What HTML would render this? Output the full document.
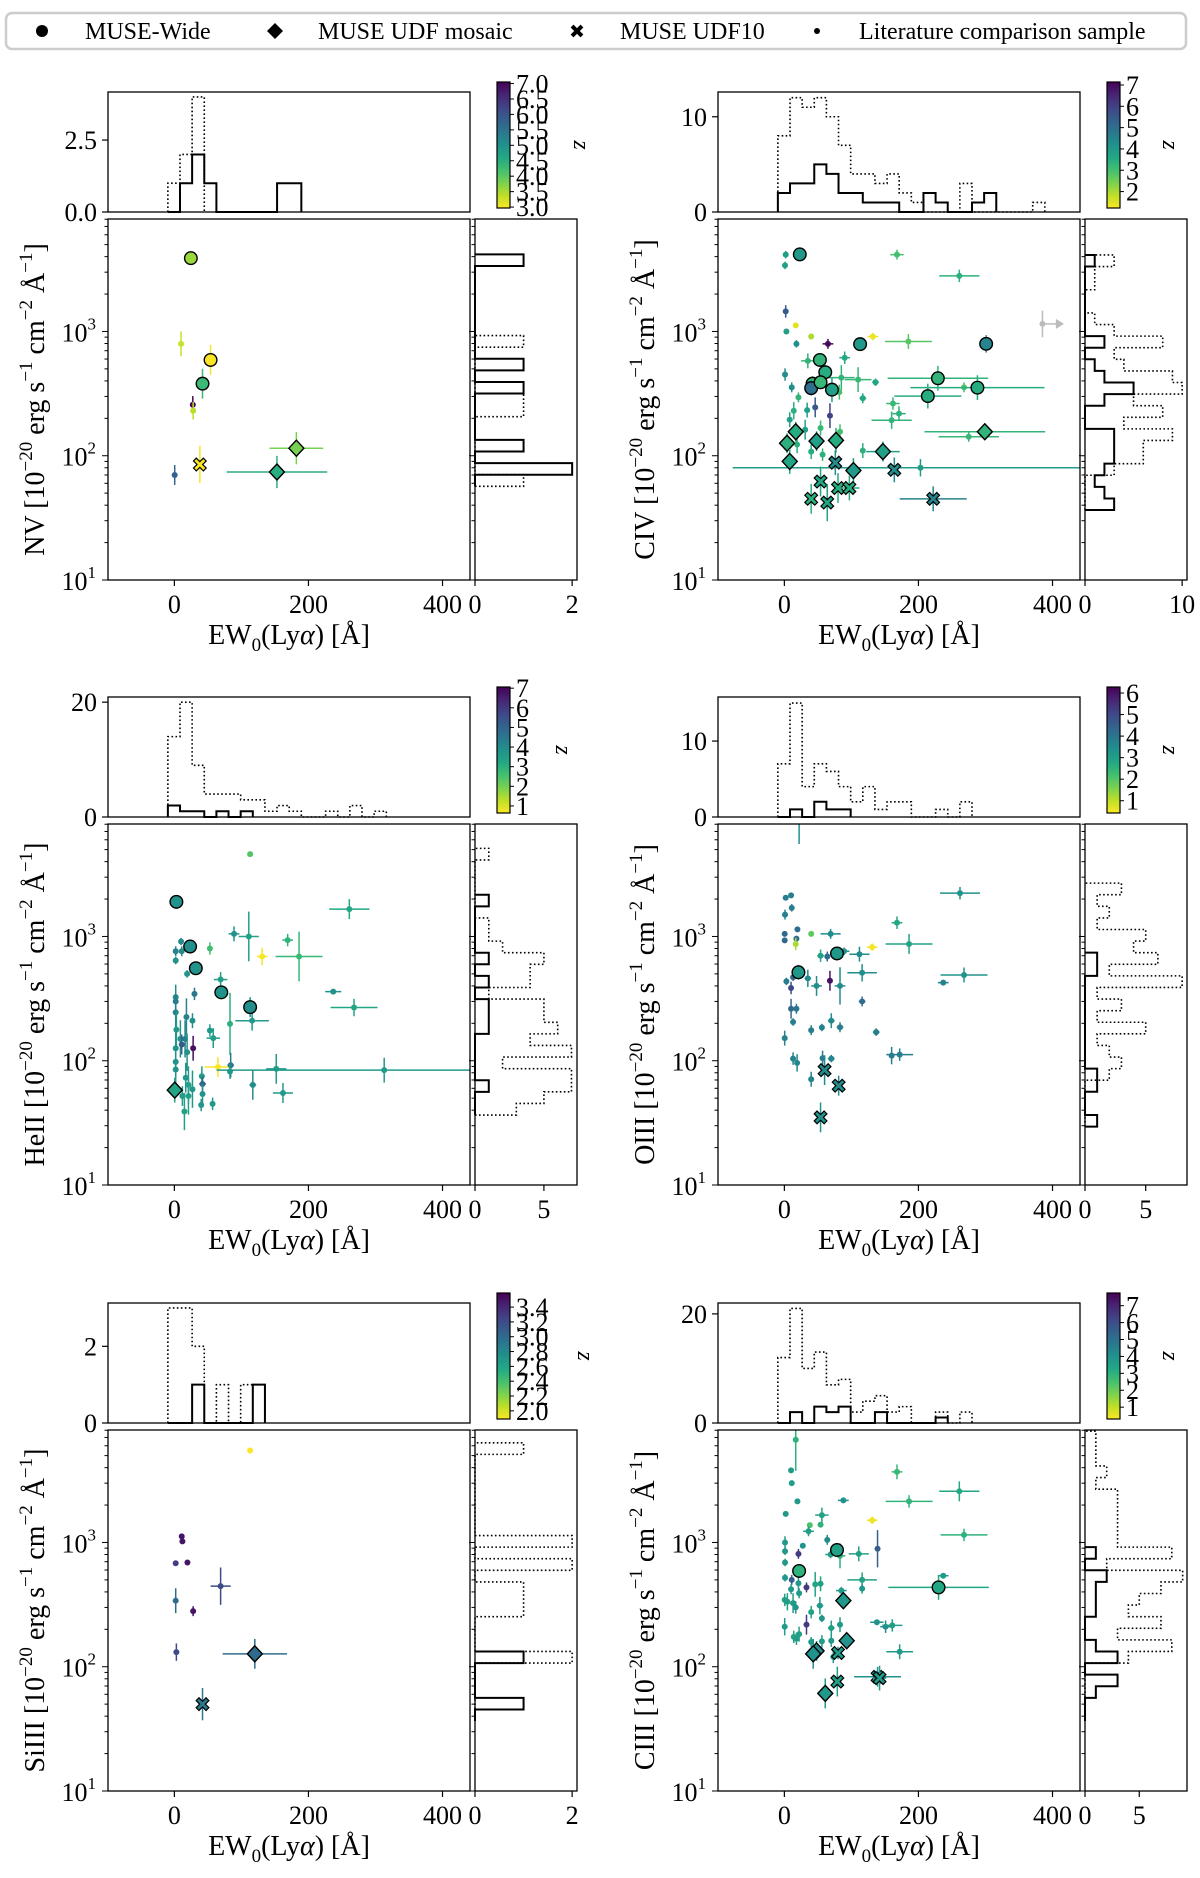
<!DOCTYPE html>
<html><head><meta charset="utf-8">
<style>
html,body{margin:0;padding:0;background:#fff;}
svg{display:block;font-family:"Liberation Serif","DejaVu Serif",serif;}
</style></head>
<body>
<svg id="fig" width="1200" height="1878" viewBox="0 0 1200 1878" xmlns="http://www.w3.org/2000/svg">
<g>
<rect x="6" y="13" width="1180" height="36" rx="6" fill="#fff" stroke="#cccccc" stroke-width="2.5"/>
<circle cx="42" cy="31" r="6" fill="#000"/>
<text x="85" y="39" font-size="24">MUSE-Wide</text>
<path d="M275,23 L283,31 L275,39 L267,31 Z" fill="#000"/>
<text x="318" y="39" font-size="24">MUSE UDF mosaic</text>
<path d="M-2,-7 L2,-7 L2,-2 L7,-2 L7,2 L2,2 L2,7 L-2,7 L-2,2 L-7,2 L-7,-2 L-2,-2 Z" transform="translate(577,31) rotate(45)" fill="#000"/>
<text x="620" y="39" font-size="24">MUSE UDF10</text>
<circle cx="817" cy="31" r="3" fill="#000"/>
<text x="859" y="39" font-size="24">Literature comparison sample</text>
</g>
<defs id="defs"></defs>
</svg>
<script>
// ---------------- DATA ----------------
const hist_x_start = -9.7, hist_x_width = 18.1;
// NV
const nv_ew   = [24.6,10,54,42,27.5,28,0.5,38,182,153];
const nv_flux = [3890,795,590,380,257,230,70,85,115,74];
const nv_z    = [3.6,3.3,3.0,4.3,7.0,3.4,5.8,3.0,3.8,4.5];
const nv_kind = "csccsssxdd";
const nv_xerr = [0,0,0,0,0,0,0,0,40,75];
const nv_yerr = [.03,.1,.12,.12,.07,.07,.08,.15,.13,.13];
const nv_top_solid  = [0,1,2,1,0,0,0,0,0,1,1];
const nv_top_dotted = [1,2,4];
const nv_right_start = 1.754;
const nv_right_solid  = [0,2,0,1,0,0,0,0,1,0,1,0,0,0,0,0,0,0,0,1];
const nv_right_dotted = [1,0,0,0,0,0,1,1,0,0,0,0,1];
const nv_cbar_ticks = [3.0,3.5,4.0,4.5,5.0,5.5,6.0,6.5,7.0];
const nv_top_ticks = [0,2.5];
const nv_right_ticks = [0,2];
// CIV
const civ_ew   = [23,113,301,53,61,42,40,54,71,229,214,288, 17,4,8,48,77,147,103,299, 76,164,54,80,97,40,64,222, 2,1,168,261,2,17,3,40,132,18,65,185,90,35,1,85,110,136,11,268,21,117,82,162,46,14,171,34,68,8,160,31,54,83,275,19,40,57,117,203];
const civ_flux = [4170,790,795,590,470,380,350,390,340,420,302,353, 156,126,90,131,133,108,76,156, 88,77,62,55,55,45,42,45, 4150,3400,4150,2800,1450,1120,1000,910,910,795,795,830,615,580,450,425,410,390,355,355,295,290,325,263,245,230,218,233,210,195,193,162,167,156,142,123,108,102,110,80];
const civ_z    = [4,4,4.5,3.3,3.5,3.3,5,3.2,3.8,3.3,3.5,3.5, 3.5,3.4,3.7,3.8,3.5,3.8,4.0,3.3, 4.3,4.3,3.6,3.5,3.5,3.4,3.7,4.5, 3.8,3.8,3.0,3.4,5.5,1.5,3.8,2.0,1.4,4.2,7,2.8,3.6,3.3,4.3,3.3,3.2,3.7,4.2,2.9,3.3,3.6,3.0,3.2,5.5,3.4,3.4,3.8,6,3.8,3.3,3.8,3.2,3.0,3.2,3.4,3.5,3.4,3.4,3.9];
const civ_kind = "ccccccccccccddddddddxxxxxxxxssssssssssssssssssssssssssssssssssssssss";
const civ_xerr = [0,8,0,0,0,0,0,0,0,75,50,100, 0,0,0,0,10,25,0,90, 0,0,0,0,15,0,0,50, 0,0,10,30,0,0,0,0,8,0,8,35,8,10,0,20,20,5,0,0,0,5,0,10,0,0,10,0,0,0,30,0,0,0,45,0,0,0,0,280];
const civ_yerr = [.03,.05,.07,.05,.06,.06,.06,.05,.1,.1,.1,.1, .08,.08,.1,.08,.1,.08,.1,.06, .1,.1,.12,.12,.1,.12,.15,.1, .03,.03,.04,.05,.05,.02,.02,.02,.03,.03,.04,.06,.05,.06,.05,.1,.1,.03,.04,.04,.04,.04,.06,.05,.08,.07,.06,.06,.1,.06,.07,.08,.06,.06,.04,.07,.06,.05,.06,.07];
const civ_limit_ew = [385];
const civ_limit_flux = [1150];
const civ_top_solid  = [2,3,3,5,4,2,2,1,1,1,0,0,2,1,0,0,1,2];
const civ_top_dotted = [8,12,11,12,10,7,4,4,3,4,2,1,0,0,0,3,0,0,0,0,0,1];
const civ_right_start = 1.563;
const civ_right_solid  = [3,2,1,2,3,3,3,0,0,2,5,2,1,0,2,0,0,0,0,0,0,1];
const civ_right_dotted = [0,0,0,3,6,6,9,4,8,5,10,9,4,3,8,3,1,0,0,1,1,3];
const civ_cbar_ticks = [2,3,4,5,6,7];
const civ_top_ticks = [0,10];
const civ_right_ticks = [0,10];
// HeII
const heii_ew   = [3,23.5,32,70,113, 0.6, 113,261,89,111,169,53,131,186,10,2,11,2,19,69,237,30,268,2,2,2,18,27,116,83,3,53,58,9,16,11,28,2,19,65,84,83,152,313,2,41,42,117,17,21,42,162,12,21,27,40,57,15,2];
const heii_flux = [1900,830,555,355,270, 58, 4600,1660,1050,1000,935,800,690,690,910,760,760,640,500,450,360,345,268,325,300,245,225,210,210,198,178,175,152,150,150,135,126,126,117,89,92,82,86,84,85,75,65,64,73,64,54,55,52,52,59,44,45,39,98];
const heii_z    = [3.8,3.9,3.8,3.8,3.9, 3.3, 2.4,3.2,3.8,3.4,2.9,2.6,0.7,2.8,4,4.2,4,3.8,3.8,3.5,3.8,4.5,3.3,4,4.5,4.3,4.2,3.9,3.6,3.0,3.6,3.6,3.5,3.8,4.3,5.2,6.8,3.7,3.8,0.7,4.5,3.7,3.6,3.6,3.7,3.6,5,4,3.7,3.5,3.8,3.6,3.6,3.4,3.7,3.7,3.6,3.4,3.8];
const heii_kind = "cccccdsssssssssssssssssssssssssssssssssssssssssssssssssssss";
const heii_xerr = [0,0,0,8,0, 0, 0,30,8,15,8,0,8,35,0,0,0,0,0,10,12,0,35,0,0,0,0,0,25,0,0,0,10,0,0,0,0,0,0,20,5,0,15,250,0,0,5,5,0,0,0,15,0,0,0,0,0,0,0];
const heii_yerr = [.03,.04,.05,.05,.08, .1, .02,.08,.06,.2,.05,.05,.07,.2,.03,.04,.04,.03,.03,.06,.02,.05,.07,.1,.06,.12,.15,.06,.08,.25,.15,.05,.08,.15,.15,.08,.1,.15,.15,.08,.1,.06,.12,.1,.15,.08,.06,.12,.12,.15,.08,.08,.08,.15,.15,.05,.05,.15,.12];
const heii_top_solid  = [2,1,1,0,1,0,1];
const heii_top_dotted = [14,20,9,4,4,4,3,3,1,2,1,0,0,1,0,2,0,1];
const heii_right_start = 1.563;
const heii_right_solid  = [0,0,1,0,0,0,0,1,1,1,0,1,0,1,0,0,0,0,1];
const heii_right_dotted = [3,5,7,7,2,7,4,6,5,5,1,4,4,5,2,1,1,0,0,0,0,0,1];
const heii_cbar_ticks = [1,2,3,4,5,6,7];
const heii_top_ticks = [0,20];
const heii_right_ticks = [0,5];
// OIII
const oiii_ew   = [78.5,21, 60,81,54, 22,262,2,10,11,1,168,19.5,0.5,40,69,0.5,18,17,131,186,89,112,54,64,116,268,237,3,13,35,68,48,83,10,116,10,18,13,70,56,83,40,137,0.5,172,160,13,19,57,70,40];
const oiii_flux = [730,515, 84,63,35, 16000,2230,2050,2140,1700,1500,1290,1140,1050,1050,1050,930,960,870,820,870,760,720,700,690,510,490,425,435,470,460,440,400,400,385,300,262,262,205,210,185,186,176,170,152,112,110,104,96,105,104,71];
const oiii_z    = [3.2,3.2, 3.5,3.5,3.3, 3.3,3.3,3.8,3.8,3.8,3.7,2.8,4.2,4.3,1.9,3.5,4.3,4.2,1.2,0.5,2.9,3.4,3.5,2.9,4.3,3.4,3.3,3.7,3.8,4.3,3.5,6,3.4,3.5,5,4.2,4.3,4,3.8,3.5,3.7,3.8,3.8,3.8,3.7,3.8,3.8,3.7,3.6,3.8,3.6,3.7];
const oiii_kind = "ccxxxsssssssssssssssssssssssssssssssssssssssssssssss";
const oiii_xerr = [0,0, 0,0,0, 0,30,0,0,0,0,8,0,0,0,15,0,0,0,8,35,8,15,5,0,22,35,8,0,0,5,0,8,8,0,5,0,0,0,5,0,5,0,5,0,20,0,0,0,0,5,0];
const oiii_yerr = [.05,.06, .12,.08,.12, .46,.05,.02,.02,.03,.04,.05,.02,.02,.02,.04,.02,.02,.05,.03,.08,.03,.06,.05,.04,.07,.06,.02,.03,.03,.07,.08,.08,.15,.05,.04,.08,.04,.03,.06,.03,.04,.04,.03,.06,.05,.07,.05,.07,.06,.03,.06];
const oiii_top_solid  = [0,1,0,2,1,1];
const oiii_top_dotted = [7,15,4,7,6,4,2,4,1,2,2,0,0,1,0,2];
const oiii_right_start = 1.470;
const oiii_right_solid  = [1,0,0,1,1,0,0,0,0,0,0,0,0,1,1];
const oiii_right_dotted = [0,0,0,0,2,3,2,1,5,1,3,1,8,2,6,4,5,1,2,1,3];
const oiii_cbar_ticks = [1,2,3,4,5,6];
const oiii_top_ticks = [0,10];
const oiii_right_ticks = [0,5];
// SiIII
const siiii_ew   = [113,11,12,2,19.5,69,2,28,3, 120, 42];
const siiii_flux = [5500,1120,1020,680,690,445,340,280,131, 127, 50];
const siiii_z    = [1.9,3.5,3.5,3.3,3.5,3.2,3.0,3.5,3.2, 3.0, 2.9];
const siiii_kind = "sssssssssdx";
const siiii_xerr = [0,0,0,0,0,15,0,0,0, 48, 0];
const siiii_yerr = [.01,.02,.02,.02,.02,.15,.1,.04,.07, .12, .13];
const siiii_top_solid  = [0,0,1,0,0,0,0,1];
const siiii_top_dotted = [3,3,2,0,1,0,1];
const siiii_right_start = 1.563;
const siiii_right_solid  = [0,1,0,0,0,1];
const siiii_right_dotted = [0,0,0,0,0,2,0,0,0,1,1,1,0,2,0,2,0,0,0,0,0,0,0,1];
const siiii_cbar_ticks = [2.0,2.2,2.4,2.6,2.8,3.0,3.2,3.4];
const siiii_top_ticks = [0,2];
const siiii_right_ticks = [0,2];
// CIII
const ciii_ew   = [78.5,22,230, 88,93,48,43,61, 80,79,139,142, 17,10,11,168,261,19.5,88,186,2,56,131,38,54,268,36,64,1,27.5,139,1,21,111,69,83,1,1,11,116,237,21,46,54,33,116,85,10,22,0.5,4.5,13,17,53,40,56,33,138,151,161,0.5,83,70,22,14,18,70,40,56,172,73];
const ciii_flux = [870,590,435, 340,162,134,127,61, 129,76,83,81, 6700,3800,3000,3700,2580,2140,2180,2140,1700,1660,1510,1380,1390,1150,1230,1050,1000,940,890,850,810,810,800,780,690,520,500,500,540,470,460,465,435,425,410,420,390,345,333,325,300,310,275,245,218,228,210,215,210,218,205,183,174,168,162,158,160,132,120];
const ciii_z    = [3.5,3.0,3.3, 3.8,4.0,4.2,4.0,3.8, 3.7,3.6,4,3.7, 3.0,3.7,3.6,2.8,3.3,3.8,4,2.9,3.8,3.5,0.5,2.4,3.0,3.0,3.6,4.3,3.8,4.0,5.5,3.8,6.5,3.5,3.6,3.0,3.8,3.8,5.5,3.5,3.7,3.8,3.4,3.5,6.5,3.8,3.7,3.8,3.8,3.6,3.6,3.7,3.9,3.8,3.5,3.9,6.5,4,4.1,3.6,3.7,3.7,3.6,3.5,3.4,3.6,3.8,3.7,3.6,3.7,3.9];
const ciii_kind = "cccdddddxxxxsssssssssssssssssssssssssssssssssssssssssssssssssssssssssss";
const ciii_xerr = [0,0,75, 0,0,0,0,0, 0,5,35,10, 0,0,0,8,30,0,8,35,0,10,8,0,0,35,8,0,0,0,0,0,0,15,8,8,0,0,0,22,8,0,0,0,0,0,8,0,0,0,0,0,0,5,0,0,0,10,8,15,0,0,5,0,0,0,0,0,0,20,0];
const ciii_yerr = [.04,.04,.1, .04,.04,.08,.12,.12, .05,.12,.08,.1, .25,.02,.02,.06,.08,.02,.02,.05,.02,.06,.03,.02,.02,.05,.04,.04,.05,.02,.15,.03,.04,.06,.03,.1,.03,.03,.04,.06,.02,.06,.1,.06,.04,.04,.03,.04,.04,.05,.07,.08,.05,.07,.05,.03,.08,.02,.05,.05,.07,.06,.06,.06,.05,.05,.05,.04,.05,.06,.05];
const ciii_top_solid  = [0,2,0,3,2,3,0,0,2,0,0,0,0,1];
const ciii_top_dotted = [12,21,10,13,7,8,2,4,5,2,3,0,0,2,0,2];
const ciii_right_start = 1.563;
const ciii_right_solid  = [0,0,1,3,0,3,1,0,0,1,1,1,2,0,1];
const ciii_right_dotted = [0,0,0,0,0,4,8,3,7,4,5,7,9,2,8,3,3,3,3,3,1,2,1,1,1];
const ciii_cbar_ticks = [1,2,3,4,5,6,7];
const ciii_top_ticks = [0,20];
const ciii_right_ticks = [0,5];

// ---------------- RENDER ----------------
const NS = 'http://www.w3.org/2000/svg';
const svg = document.getElementById('fig');
const defs = document.getElementById('defs');
function mk(tag, attrs, parent){const e=document.createElementNS(NS,tag);for(const k in attrs)e.setAttribute(k,attrs[k]);(parent||svg).appendChild(e);return e;}
const VIR = ['#440154','#482475','#414487','#355f8d','#2a788e','#21918c','#22a884','#44bf70','#7ad151','#bddf26','#fde725'];
function hx(h){return [parseInt(h.substr(1,2),16),parseInt(h.substr(3,2),16),parseInt(h.substr(5,2),16)];}
function viridis(t){t=Math.max(0,Math.min(1,t));const p=t*(VIR.length-1);const i=Math.min(Math.floor(p),VIR.length-2);const f=p-i;const a=hx(VIR[i]),b=hx(VIR[i+1]);return 'rgb('+a.map((v,k)=>Math.round(v+(b[k]-v)*f)).join(',')+')';}

const XMIN=-99, XMAX=441, LMIN=1, LMAX=3.905;
const MAIN_L=108, MAIN_W=362, MAIN_T=219, MAIN_B=580, TOP_T=92, TOP_B=212, R_L=475, R_W=102, CB_L=497, CB_W=13, CB_T=82, CB_B=208;
const TICK_FS=26;

const PANELS = [
 {id:'nv', name:'NV', ox:0, oy:0, ew:nv_ew, flux:nv_flux, z:nv_z, kind:nv_kind, xe:nv_xerr, ye:nv_yerr, topS:nv_top_solid, topD:nv_top_dotted, topMax:4.17, topTicks:nv_top_ticks, topFmt:1, rStart:nv_right_start, rS:nv_right_solid, rD:nv_right_dotted, rMax:2.1, rTicks:nv_right_ticks, zmin:2.97, zmax:7.05, cbTicks:nv_cbar_ticks, cbFmt:1, zlx:574},
 {id:'civ', name:'CIV', ox:610, oy:0, ew:civ_ew, flux:civ_flux, z:civ_z, kind:civ_kind, xe:civ_xerr, ye:civ_yerr, topS:civ_top_solid, topD:civ_top_dotted, topMax:12.6, topTicks:civ_top_ticks, topFmt:0, rStart:civ_right_start, rS:civ_right_solid, rD:civ_right_dotted, rMax:10.5, rTicks:civ_right_ticks, zmin:1.23, zmax:7.14, cbTicks:civ_cbar_ticks, cbFmt:0, zlx:553},
 {id:'heii', name:'HeII', ox:0, oy:605, ew:heii_ew, flux:heii_flux, z:heii_z, kind:heii_kind, xe:heii_xerr, ye:heii_yerr, topS:heii_top_solid, topD:heii_top_dotted, topMax:20.9, topTicks:heii_top_ticks, topFmt:0, rStart:heii_right_start, rS:heii_right_solid, rD:heii_right_dotted, rMax:7.4, rTicks:heii_right_ticks, zmin:0.64, zmax:7.06, cbTicks:heii_cbar_ticks, cbFmt:0, zlx:556},
 {id:'oiii', name:'OIII', ox:610, oy:605, ew:oiii_ew, flux:oiii_flux, z:oiii_z, kind:oiii_kind, xe:oiii_xerr, ye:oiii_yerr, topS:oiii_top_solid, topD:oiii_top_dotted, topMax:15.8, topTicks:oiii_top_ticks, topFmt:0, rStart:oiii_right_start, rS:oiii_right_solid, rD:oiii_right_dotted, rMax:8.4, rTicks:oiii_right_ticks, zmin:0.43, zmax:6.28, cbTicks:oiii_cbar_ticks, cbFmt:0, zlx:553},
 {id:'siiii', name:'SiIII', ox:0, oy:1211, ew:siiii_ew, flux:siiii_flux, z:siiii_z, kind:siiii_kind, xe:siiii_xerr, ye:siiii_yerr, topS:siiii_top_solid, topD:siiii_top_dotted, topMax:3.13, topTicks:siiii_top_ticks, topFmt:0, rStart:siiii_right_start, rS:siiii_right_solid, rD:siiii_right_dotted, rMax:2.1, rTicks:siiii_right_ticks, zmin:1.89, zmax:3.59, cbTicks:siiii_cbar_ticks, cbFmt:1, zlx:578},
 {id:'ciii', name:'CIII', ox:610, oy:1211, ew:ciii_ew, flux:ciii_flux, z:ciii_z, kind:ciii_kind, xe:ciii_xerr, ye:ciii_yerr, topS:ciii_top_solid, topD:ciii_top_dotted, topMax:22, topTicks:ciii_top_ticks, topFmt:0, rStart:ciii_right_start, rS:ciii_right_solid, rD:ciii_right_dotted, rMax:9.4, rTicks:ciii_right_ticks, zmin:0.3, zmax:7.75, cbTicks:ciii_cbar_ticks, cbFmt:0, zlx:553}
];

function drawPanel(P){
  const ox=P.ox, oy=P.oy;
  const sx=v=>MAIN_L+ox+(v-XMIN)/(XMAX-XMIN)*MAIN_W;
  const syl=l=>MAIN_B+oy-(l-LMIN)/(LMAX-LMIN)*(MAIN_B-MAIN_T);
  const sy=f=>syl(Math.log10(f));
  const ty=c=>TOP_B+oy-c/P.topMax*(TOP_B-TOP_T);
  const rx=c=>R_L+ox+c/P.rMax*R_W;
  const col=z=>viridis(1-(z-P.zmin)/(P.zmax-P.zmin));
  const g=mk('g',{});
  
  
  const cp=mk('clipPath',{id:'clip-'+P.id},defs);
  mk('rect',{x:MAIN_L+ox,y:MAIN_T+oy,width:MAIN_W,height:MAIN_B-MAIN_T},cp);
  const cpt=mk('clipPath',{id:'clipt-'+P.id},defs);
  mk('rect',{x:MAIN_L+ox,y:TOP_T+oy,width:MAIN_W,height:TOP_B-TOP_T+1},cpt);
  const cpr=mk('clipPath',{id:'clipr-'+P.id},defs);
  mk('rect',{x:R_L+ox-1,y:MAIN_T+oy,width:R_W+1,height:MAIN_B-MAIN_T},cpr);

  // ---- top histogram ----
  const tg=mk('g',{'clip-path':'url(#clipt-'+P.id+')'},g);
  
  
  [[P.topD,'dotted'],[P.topS,'solid']].forEach(([cnt,st])=>{
    let d='M'+sx(hist_x_start)+','+ty(0);
    cnt.forEach((c,k)=>{const e0=hist_x_start+k*hist_x_width,e1=e0+hist_x_width;d+=' L'+sx(e0)+','+ty(c)+' L'+sx(e1)+','+ty(c);});
    d+=' L'+sx(hist_x_start+cnt.length*hist_x_width)+','+ty(0);
    const p=mk('path',{d:d,fill:'none',stroke:'#000','stroke-width':st=='solid'?2:1.6,'stroke-dasharray':st=='solid'?'none':'1.6,2.4'},tg);
    
    
  });
  const tf=mk('rect',{x:MAIN_L+ox,y:TOP_T+oy,width:MAIN_W,height:TOP_B-TOP_T,fill:'none',stroke:'#000','stroke-width':1.3},g);
  
  
  P.topTicks.forEach(t=>{
    mk('line',{x1:MAIN_L+ox-6,x2:MAIN_L+ox,y1:ty(t),y2:ty(t),stroke:'#000','stroke-width':1.2},g);
    const tx=mk('text',{x:MAIN_L+ox-11,y:ty(t)+9,'font-size':TICK_FS,'text-anchor':'end'},g);
    tx.textContent=t.toFixed(P.topFmt);
    
    
  });

  // ---- right histogram ----
  const rw=0.0933;
  const rg=mk('g',{'clip-path':'url(#clipr-'+P.id+')'},g);
  
  
  [[P.rD,'dotted'],[P.rS,'solid']].forEach(([cnt,st])=>{
    let d='M'+rx(0)+','+syl(P.rStart);
    cnt.forEach((c,k)=>{const e0=P.rStart+k*rw,e1=e0+rw;d+=' L'+rx(c)+','+syl(e0)+' L'+rx(c)+','+syl(e1);});
    d+=' L'+rx(0)+','+syl(P.rStart+cnt.length*rw);
    const p=mk('path',{d:d,fill:'none',stroke:'#000','stroke-width':st=='solid'?2:1.6,'stroke-dasharray':st=='solid'?'none':'1.6,2.4'},rg);
    
    
  });
  const rf=mk('rect',{x:R_L+ox,y:MAIN_T+oy,width:R_W,height:MAIN_B-MAIN_T,fill:'none',stroke:'#000','stroke-width':1.3},g);
  
  
  P.rTicks.forEach(t=>{
    mk('line',{x1:rx(t),x2:rx(t),y1:MAIN_B+oy,y2:MAIN_B+oy+6,stroke:'#000','stroke-width':1.2},g);
    const tx=mk('text',{x:rx(t),y:MAIN_B+oy+33,'font-size':TICK_FS,'text-anchor':'middle'},g);
    tx.textContent=String(t);
    
    
  });

  // ---- main frame & ticks ----
  for(let dec=1;dec<=3;dec++){
    for(let m=1;m<=9;m++){
      const l=dec+Math.log10(m); if(l>LMAX) break;
      const len=(m==1)?6:3.5;
      mk('line',{x1:MAIN_L+ox-len,x2:MAIN_L+ox,y1:syl(l),y2:syl(l),stroke:'#000','stroke-width':1},g);
      mk('line',{x1:R_L+ox-len,x2:R_L+ox,y1:syl(l),y2:syl(l),stroke:'#000','stroke-width':1},g);
    }
  }
  [1,2,3].forEach(dec=>{
    const tx=mk('text',{x:MAIN_L+ox-12,y:syl(dec)+10,'font-size':TICK_FS,'text-anchor':'end'},g);
    
    
    tx.appendChild(document.createTextNode('10'));
    const sp=mk('tspan',{dy:-12,'font-size':17},tx); sp.textContent=String(dec);
  });
  [0,200,400].forEach(v=>{
    mk('line',{x1:sx(v),x2:sx(v),y1:MAIN_B+oy,y2:MAIN_B+oy+6,stroke:'#000','stroke-width':1.2},g);
    const tx=mk('text',{x:sx(v),y:MAIN_B+oy+33,'font-size':TICK_FS,'text-anchor':'middle'},g);
    tx.textContent=String(v);
    
    
  });
  const xl=mk('text',{x:MAIN_L+ox+MAIN_W/2,y:MAIN_B+oy+64,'font-size':28,'text-anchor':'middle'},g);
  
  
  xl.appendChild(document.createTextNode('EW'));
  let s0=mk('tspan',{dy:7,'font-size':19},xl); s0.textContent='0';
  let s1=mk('tspan',{dy:-7},xl); s1.textContent='(Ly';
  let s2=mk('tspan',{'font-style':'italic'},xl); s2.textContent='α';
  let s3=mk('tspan',{},xl); s3.textContent=') [Å]';
  const cy=(MAIN_T+MAIN_B)/2+oy, cx=44+ox;
  const yl=mk('text',{x:cx,y:cy,'font-size':28,'text-anchor':'middle',transform:'rotate(-90 '+cx+' '+cy+')'},g);
  
  
  const parts=[[P.name+' [10',0],['−20',1],[' erg s',0],['−1',1],[' cm',0],['−2',1],[' Å',0],['−1',1],[']',0]];
  let up=false;
  parts.forEach(([t,sup])=>{
    const a={}; if(sup&&!up){a.dy=-12;up=true;} else if(!sup&&up){a.dy=12;up=false;}
    if(sup) a['font-size']=19;
    const sp=mk('tspan',a,yl); sp.textContent=t;
  });

  // ---- points ----
  const pg=mk('g',{'clip-path':'url(#clip-'+P.id+')'},g);
  
  
  const order=['s','c','d','x'];
  order.forEach(kd=>{
    for(let i=0;i<P.ew.length;i++){
      if(P.kind[i]!==kd) continue;
      const X=sx(P.ew[i]), Y=sy(P.flux[i]), c=col(P.z[i]);
      const ptg=mk('g',{},pg);
      
      
      if(P.xe[i]>0) mk('line',{x1:sx(P.ew[i]-P.xe[i]),x2:sx(P.ew[i]+P.xe[i]),y1:Y,y2:Y,stroke:c,'stroke-width':1.5},ptg);
      if(P.ye[i]>0) mk('line',{x1:X,x2:X,y1:sy(P.flux[i]*Math.pow(10,-P.ye[i])),y2:sy(P.flux[i]*Math.pow(10,P.ye[i])),stroke:c,'stroke-width':1.5},ptg);
      if(kd==='s') mk('circle',{cx:X,cy:Y,r:3,fill:c},ptg);
      else if(kd==='c') mk('circle',{cx:X,cy:Y,r:6.3,fill:c,stroke:'#000','stroke-width':1.4},ptg);
      else if(kd==='d') mk('path',{d:'M'+X+','+(Y-8)+' L'+(X+7.5)+','+Y+' L'+X+','+(Y+8)+' L'+(X-7.5)+','+Y+' Z',fill:c,stroke:'#000','stroke-width':1.4},ptg);
      else mk('path',{d:'M-2,-7 L2,-7 L2,-2 L7,-2 L7,2 L2,2 L2,7 L-2,7 L-2,2 L-7,2 L-7,-2 L-2,-2 Z',transform:'translate('+X+','+Y+') rotate(45)',fill:c,stroke:'#000','stroke-width':1.2},ptg);
    }
  });
  if(P.id==='civ'){
    for(let i=0;i<civ_limit_ew.length;i++){
      const X=sx(civ_limit_ew[i]), Y=sy(civ_limit_flux[i]);
      const lg=mk('g',{},pg);
      
      
      mk('line',{x1:X,x2:X,y1:sy(civ_limit_flux[i]*0.78),y2:sy(civ_limit_flux[i]*1.28),stroke:'#bbb','stroke-width':1.5},lg);
      mk('line',{x1:X,x2:sx(civ_limit_ew[i]+22),y1:Y,y2:Y,stroke:'#bbb','stroke-width':1.5},lg);
      mk('path',{d:'M'+sx(civ_limit_ew[i]+20)+','+(Y-5)+' L'+sx(civ_limit_ew[i]+32)+','+Y+' L'+sx(civ_limit_ew[i]+20)+','+(Y+5)+' Z',fill:'#bbb'},lg);
      mk('circle',{cx:X,cy:Y,r:3,fill:'#bbb'},lg);
    }
  }
  const mf=mk('rect',{x:MAIN_L+ox,y:MAIN_T+oy,width:MAIN_W,height:MAIN_B-MAIN_T,fill:'none',stroke:'#000','stroke-width':1.3},g);
  
  

  // ---- colorbar ----
  const gr=mk('linearGradient',{id:'grad-'+P.id,x1:0,y1:1,x2:0,y2:0},defs);
  for(let k=0;k<=10;k++){mk('stop',{offset:k/10,'stop-color':viridis(1-k/10)},gr);}
  const cb=mk('rect',{x:CB_L+ox,y:CB_T+oy,width:CB_W,height:CB_B-CB_T,fill:'url(#grad-'+P.id+')',stroke:'#000','stroke-width':1.2},g);
  
  
  const cby=z=>CB_B+oy-(z-P.zmin)/(P.zmax-P.zmin)*(CB_B-CB_T);
  P.cbTicks.forEach(t=>{
    mk('line',{x1:CB_L+ox+CB_W,x2:CB_L+ox+CB_W+4,y1:cby(t),y2:cby(t),stroke:'#000','stroke-width':1},g);
    const tx=mk('text',{x:CB_L+ox+CB_W+6,y:cby(t)+9,'font-size':TICK_FS},g);
    tx.textContent=t.toFixed(P.cbFmt);
    
    
  });
  const zx=P.zlx+ox, zy=145+oy;
  const zl=mk('text',{x:zx,y:zy,'font-size':24,'font-style':'italic','text-anchor':'middle',transform:'rotate(90 '+zx+' '+zy+')'},g);
  zl.textContent='z';
  
  
}
PANELS.forEach(drawPanel);
</script>
</body></html>
